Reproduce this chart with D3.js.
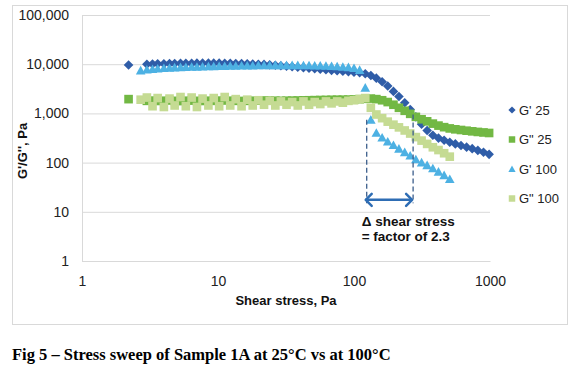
<!DOCTYPE html>
<html>
<head>
<meta charset="utf-8">
<script src="https://cdn.jsdelivr.net/npm/d3@7"></script>
<style>
  body { margin: 0; background: #fff; }
  svg text { font-family: "Liberation Sans", Arial, sans-serif; }
</style>
</head>
<body>
<div id="chart"></div>
<script>
// stress steps (Pa) for the 25°C run
var stress25 = [2.2, 3.0, 3.3, 3.6, 4.0, 4.4, 4.8, 5.3, 5.8, 6.4, 7.0, 7.7, 8.5, 9.3, 10.2, 11.2, 12.3, 13.5, 14.9, 16.4,
    18.0, 19.8, 21.8, 24.0, 26.4, 29.0, 31.9, 35.1, 38.6, 42.5, 46.7, 51.4, 56.5, 62.2, 68.4, 75.2, 82.8, 91.0, 100, 110,
    121, 133, 146, 161, 177, 195, 214, 236, 259, 285, 314, 345, 380, 418, 460, 506, 556, 612, 673, 740,
    814, 896, 985];
var gPrime25 = [9600, 10000, 10100, 10200, 10200, 10300, 10300, 10400, 10400, 10400, 10500, 10500, 10500, 10500, 10500, 10400, 10400, 10300, 10300, 10200,
    10100, 10000, 9900, 9700, 9500, 9300, 9100, 8900, 8700, 8500, 8300, 8100, 7900, 7700, 7500, 7400, 7200, 7000, 6900, 6700,
    6400, 5900, 5200, 4400, 3600, 2800, 2200, 1650, 1200, 850, 600, 450, 360, 315, 285, 260, 240, 222, 206, 192,
    177, 162, 147];
var gDouble25 = [1950, 1800, 1820, 1790, 1810, 1830, 1800, 1780, 1810, 1820, 1800, 1790, 1810, 1800, 1820, 1830, 1810, 1800, 1790, 1800,
    1810, 1820, 1830, 1820, 1810, 1800, 1810, 1820, 1830, 1840, 1850, 1860, 1870, 1880, 1890, 1900, 1900, 1910, 1920, 1950,
    1980, 2000, 1950, 1850, 1700, 1500, 1300, 1130, 980, 850, 760, 690, 620, 565, 525, 495, 475, 460, 445, 432,
    420, 410, 400];

// stress steps (Pa) for the 100°C run
var stress100 = [2.7, 3.0, 3.3, 3.6, 4.0, 4.4, 4.8, 5.3, 5.8, 6.4, 7.0, 7.7, 8.5, 9.3, 10.2, 11.2, 12.3, 13.5, 14.9, 16.4,
    18.0, 19.8, 21.8, 24.0, 26.4, 29.0, 31.9, 35.1, 38.6, 42.5, 46.7, 51.4, 56.5, 62.2, 68.4, 75.2, 82.8, 91.0, 100, 110,
    121, 133, 146, 161, 177, 195, 214, 236, 259, 285, 314, 345, 380, 418, 460, 506];
var gPrime100 = [7400, 7700, 7900, 8100, 8300, 8400, 8500, 8600, 8700, 8800, 8800, 8900, 9000, 9000, 9100, 9100, 9200, 9200, 9300, 9300,
    9300, 9400, 9400, 9400, 9500, 9500, 9500, 9500, 9500, 9400, 9400, 9300, 9300, 9200, 9100, 9000, 8800, 8600, 8300, 7600,
    3300, 740, 400, 320, 265, 225, 190, 162, 138, 116, 100, 88, 76, 65, 55, 46];
var gDouble100 = [1900, 2100, 1400, 2050, 1350, 2000, 1450, 2150, 1400, 2100, 1350, 2000, 1450, 2050, 1400, 2150, 1450, 1950, 1400, 1900,
    1450, 1850, 1500, 1800, 1450, 1750, 1500, 1700, 1450, 1750, 1500, 1700, 1550, 1750, 1600, 1750, 1650, 1800, 1850, 1950,
    2050, 1300, 950, 800, 680, 590, 520, 450, 390, 330, 280, 240, 205, 180, 155, 132];

var seriesNames = ["G' 25", 'G" 25', "G' 100", 'G" 100'];
var seriesColors = ['#2f5da8', '#72b844', '#4db1e3', '#c5db93'];
var seriesShapes = ['diamond', 'square', 'triangle', 'square'];

var xTicks = [1, 10, 100, 1000];
var yTicks = [1, 10, 100, 1000, 10000, 100000];

// annotation: stress range between the two cross-over points
var deltaLow = 124, deltaHigh = 272;

var width = 580, height = 371;
var margin = { top: 15, right: 90, bottom: 110, left: 82 };
var w = width - margin.left - margin.right,
    h = height - margin.top - margin.bottom;

var svg = d3.select('#chart')
    .append('svg')
    .attr('width', width)
    .attr('height', height);

// chart frame
svg.append('rect')
    .attr('x', 12.5).attr('y', 5.5)
    .attr('width', 555).attr('height', 319)
    .attr('fill', 'white')
    .attr('stroke', '#d9d9d9');

var g = svg.append('g')
    .attr('transform', 'translate(' + margin.left + ',' + margin.top + ')');

var x = d3.scaleLog().domain([1, 1000]).range([0, w]);
var y = d3.scaleLog().domain([1, 100000]).range([h, 0]);

// y axis + horizontal gridlines
var yAxis = g.append('g')
    .call(d3.axisLeft(y).tickValues(yTicks).tickFormat(d3.format(',')).tickSize(-w).tickSizeOuter(0).tickPadding(13));
yAxis.selectAll('line').attr('stroke', '#d9d9d9');
yAxis.select('.domain').attr('stroke', '#d9d9d9');
yAxis.selectAll('text')
    .style('font-size', '14px')
    .attr('fill', '#222');

// x axis
var xAxis = g.append('g')
    .attr('transform', 'translate(0,' + h + ')')
    .call(d3.axisBottom(x).tickValues(xTicks).tickFormat(d3.format('d')).tickSize(0).tickPadding(15));
xAxis.select('.domain').attr('stroke', '#d9d9d9');
xAxis.selectAll('text')
    .style('font-size', '14px')
    .attr('fill', '#222');

// marker shapes, drawn like the excel markers
function shapePath(shape, r) {
    if (shape == 'diamond') return 'M0,' + (-r) + 'L' + r + ',0L0,' + r + 'L' + (-r) + ',0Z';
    if (shape == 'triangle') return 'M0,' + (-r) + 'L' + r + ',' + (r * 0.8) + 'L' + (-r) + ',' + (r * 0.8) + 'Z';
    var s = r * 0.9;
    return 'M' + (-s) + ',' + (-s) + 'H' + s + 'V' + s + 'H' + (-s) + 'Z';
}

var allSeries = [
    { xs: stress25, ys: gPrime25 },
    { xs: stress25, ys: gDouble25 },
    { xs: stress100, ys: gPrime100 },
    { xs: stress100, ys: gDouble100 }
];

allSeries.forEach(function(s, i) {
    var pts = s.xs.map(function(v, k) { return { x: v, y: s.ys[k] }; });
    g.append('g')
        .selectAll('path')
        .data(pts)
        .enter()
        .append('path')
        .attr('transform', function(d) { return 'translate(' + x(d.x) + ',' + y(d.y) + ')'; })
        .attr('d', shapePath(seriesShapes[i], 4.8))
        .attr('fill', seriesColors[i]);
});

// dashed drop lines + double arrow
var dashTopLow = 740, dashTopHigh = 950, dashBottom = 15, arrowLevel = 17.5;
g.append('line')
    .attr('x1', x(deltaLow)).attr('x2', x(deltaLow))
    .attr('y1', y(dashTopLow)).attr('y2', y(dashBottom))
    .attr('stroke', '#3c5e8c').attr('stroke-width', 1.3).attr('stroke-dasharray', '5,3');
g.append('line')
    .attr('x1', x(deltaHigh)).attr('x2', x(deltaHigh))
    .attr('y1', y(dashTopHigh)).attr('y2', y(dashBottom))
    .attr('stroke', '#3c5e8c').attr('stroke-width', 1.3).attr('stroke-dasharray', '5,3');

var ay = y(arrowLevel), ax1 = x(deltaLow) - 2, ax2 = x(deltaHigh);
g.append('line')
    .attr('x1', ax1 + 1).attr('x2', ax2 - 1)
    .attr('y1', ay).attr('y2', ay)
    .attr('stroke', '#2e6db4').attr('stroke-width', 2.5);
g.append('path')
    .attr('d', 'M' + (ax1 + 7) + ',' + (ay - 6) + 'L' + (ax1 + 1) + ',' + ay + 'L' + (ax1 + 7) + ',' + (ay + 6) +
        'M' + (ax2 - 7) + ',' + (ay - 6) + 'L' + (ax2 - 1) + ',' + ay + 'L' + (ax2 - 7) + ',' + (ay + 6))
    .attr('fill', 'none')
    .attr('stroke', '#2e6db4').attr('stroke-width', 2.5)
    .attr('stroke-linecap', 'round').attr('stroke-linejoin', 'round');

var note = g.append('text')
    .attr('x', x(deltaLow) - 5)
    .attr('y', ay + 26)
    .style('font-size', '13.5px')
    .style('font-weight', 'bold')
    .attr('fill', '#111');
note.append('tspan').text('Δ shear stress');
note.append('tspan').attr('x', x(deltaLow) - 5).attr('dy', '1.12em').text('= factor of 2.3');

// axis titles
svg.append('text')
    .attr('x', margin.left + w / 2)
    .attr('y', 305)
    .attr('text-anchor', 'middle')
    .style('font-size', '13px')
    .style('font-weight', 'bold')
    .attr('fill', '#111')
    .text('Shear stress, Pa');

svg.append('text')
    .attr('transform', 'translate(27,151) rotate(-90)')
    .attr('text-anchor', 'middle')
    .style('font-size', '13px')
    .style('font-weight', 'bold')
    .attr('fill', '#111')
    .text("G'/G'', Pa");

// legend
var legend = svg.append('g').attr('transform', 'translate(512,110)');
seriesNames.forEach(function(name, i) {
    var row = legend.append('g').attr('transform', 'translate(0,' + (i * 29.5) + ')');
    row.append('path')
        .attr('d', shapePath(seriesShapes[i], 3.6))
        .attr('fill', seriesColors[i]);
    row.append('text')
        .attr('x', 7)
        .attr('dy', '0.36em')
        .style('font-size', '13px')
        .attr('fill', '#222')
        .text(name);
});

// figure caption
svg.append('text')
    .attr('x', 12)
    .attr('y', 360)
    .style('font-family', '"Liberation Serif", "Times New Roman", serif')
    .style('font-size', '16.5px')
    .style('font-weight', 'bold')
    .attr('fill', '#000')
    .text('Fig 5 \u2013 Stress sweep of Sample 1A at 25\u00b0C vs at 100\u00b0C');
</script>
</body>
</html>
